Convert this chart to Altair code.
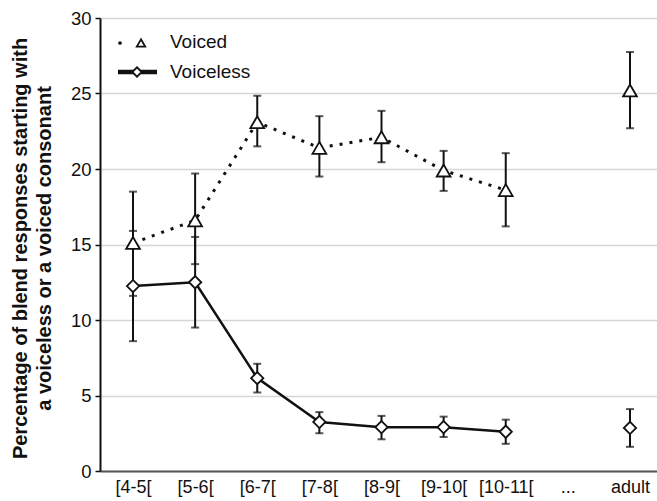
import altair as alt
import pandas as pd

categories = ["[4-5[", "[5-6[", "[6-7[", "[7-8[", "[8-9[", "[9-10[", "[10-11[", "...", "adult"]
segments = ["child", "child", "child", "child", "child", "child", "child", "none", "adult"]

voiced_mean = [15.1, 16.6, 23.1, 21.4, 22.1, 19.9, 18.6, None, 25.2]
voiced_low = [11.6, 13.7, 21.5, 19.5, 20.45, 18.55, 16.2, None, 22.7]
voiced_high = [18.5, 19.7, 24.85, 23.5, 23.85, 21.2, 21.05, None, 27.75]

voiceless_mean = [12.25, 12.5, 6.15, 3.25, 2.9, 2.9, 2.6, None, 2.85]
voiceless_low = [8.6, 9.5, 5.2, 2.5, 2.1, 2.25, 1.8, None, 1.6]
voiceless_high = [15.9, 15.5, 7.1, 3.9, 3.65, 3.6, 3.4, None, 4.1]

y_ticks = [0, 5, 10, 15, 20, 25, 30]
y_title = ["Percentage of blend responses starting with", "a voiceless or a voiced consonant"]
legend_labels = ["Voiced", "Voiceless"]

FONT = "Liberation Sans"

rows = []
for i, c in enumerate(categories):
    if voiced_mean[i] is not None:
        rows.append(dict(cat=c, seg=segments[i], series="Voiced",
                         mean=voiced_mean[i], low=voiced_low[i], high=voiced_high[i]))
    if voiceless_mean[i] is not None:
        rows.append(dict(cat=c, seg=segments[i], series="Voiceless",
                         mean=voiceless_mean[i], low=voiceless_low[i], high=voiceless_high[i]))
df = pd.DataFrame(rows)

xenc = alt.X("cat:N", sort=categories,
             scale=alt.Scale(type="point", domain=categories, padding=0.483, align=0.55),
             axis=alt.Axis(title=None, labelAngle=0, ticks=False, grid=False,
                           domainColor="#555555", domainWidth=2,
                           labelFont=FONT, labelFontSize=18, labelColor="#111111",
                           labelPadding=7))
yscale = alt.Scale(domain=[0, 30], nice=False, zero=True)
yaxis = alt.Axis(values=y_ticks, title=y_title, grid=True, gridColor="#d6d6d6", gridWidth=1.6,
                 domainColor="#111111", domainWidth=2, tickColor="#111111", tickSize=5,
                 tickWidth=1.5, labelFont=FONT, labelFontSize=18.5, labelColor="#111111",
                 labelPadding=4, titleFont=FONT, titleFontSize=20, titleFontWeight="bold",
                 titleColor="#111111", titleAngle=270, titleX=-70, titleY=230,
                 titleAlign="center", titleBaseline="bottom", titleLineHeight=24)

base = alt.Chart(df)

voiced_line = base.transform_filter(alt.datum.series == "Voiced").mark_line(
    color="#111111", strokeWidth=3, strokeDash=[3, 7]
).encode(x=xenc, y=alt.Y("mean:Q", scale=yscale, axis=yaxis), detail="seg:N")

voiceless_line = base.transform_filter(alt.datum.series == "Voiceless").mark_line(
    color="#111111", strokeWidth=2.5
).encode(x=xenc, y=alt.Y("mean:Q", scale=yscale), detail="seg:N")

err_rule = base.mark_rule(color="#111111", strokeWidth=2).encode(
    x=xenc, y=alt.Y("low:Q", scale=yscale), y2="high:Q")
cap_low = base.mark_tick(color="#111111", size=8, thickness=2, orient="horizontal").encode(
    x=xenc, y=alt.Y("low:Q", scale=yscale))
cap_high = base.mark_tick(color="#111111", size=8, thickness=2, orient="horizontal").encode(
    x=xenc, y=alt.Y("high:Q", scale=yscale))

tri = base.transform_filter(alt.datum.series == "Voiced").mark_point(
    shape="triangle-up", size=190, filled=True, fill="white", stroke="#111111",
    strokeWidth=1.8, opacity=1
).encode(x=xenc, y=alt.Y("mean:Q", scale=yscale))

dia = base.transform_filter(alt.datum.series == "Voiceless").mark_point(
    shape="diamond", size=150, filled=True, fill="white", stroke="#111111",
    strokeWidth=1.8, opacity=1
).encode(x=xenc, y=alt.Y("mean:Q", scale=yscale))

# manual legend
leg_one = pd.DataFrame({"k": [0]})
leg_text_v = alt.Chart(pd.DataFrame({"label": [legend_labels[0]]})).mark_text(
    font=FONT, fontSize=19, align="left", baseline="middle", color="#111111"
).encode(x=alt.value(70), y=alt.value(24), text="label:N")
leg_text_u = alt.Chart(pd.DataFrame({"label": [legend_labels[1]]})).mark_text(
    font=FONT, fontSize=19, align="left", baseline="middle", color="#111111"
).encode(x=alt.value(70), y=alt.value(54), text="label:N")
leg_dot = alt.Chart(leg_one).mark_point(shape="circle", size=14, filled=True, color="#111111",
                                        opacity=1).encode(
    x=alt.value(20), y=alt.value(25))
leg_tri = alt.Chart(leg_one).mark_point(shape="triangle-up", size=70, filled=True, fill="white",
                                        stroke="#111111", strokeWidth=1.8, opacity=1).encode(
    x=alt.value(41), y=alt.value(25))
leg_line = alt.Chart(leg_one).mark_rule(color="#111111", strokeWidth=4.5).encode(
    x=alt.value(18), x2=alt.value(57), y=alt.value(54))
leg_dia = alt.Chart(leg_one).mark_point(shape="diamond", size=90, filled=True, fill="white",
                                        stroke="#111111", strokeWidth=1.8, opacity=1).encode(
    x=alt.value(37), y=alt.value(54))

chart = alt.layer(
    voiced_line, voiceless_line, err_rule, cap_low, cap_high, tri, dia,
    leg_dot, leg_tri, leg_line, leg_dia, leg_text_v, leg_text_u
).properties(
    width=557, height=453,
    padding={"left": 100, "top": 18, "right": 0, "bottom": 30},
    autosize=alt.AutoSizeParams(type="none"),
    background="white",
).configure_view(stroke=None)

chart.save("out.html", embed_options={"renderer": "svg", "actions": False})
